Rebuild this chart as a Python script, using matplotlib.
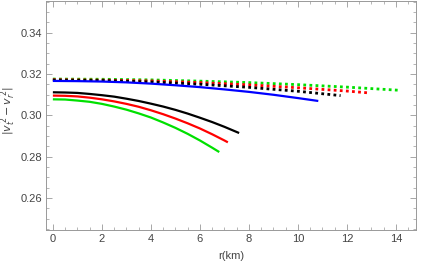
import numpy as np
import matplotlib
matplotlib.use("Agg")
import matplotlib.pyplot as plt
from matplotlib.ticker import MultipleLocator

# solid curves
r_black = [0, 0.5, 1, 1.5, 2, 2.5, 3, 3.5, 4, 4.5, 5, 5.5, 6, 6.5, 7, 7.6]
d_black = [0.3111, 0.3110, 0.3108, 0.3103, 0.3097, 0.3090, 0.3080, 0.3069,
           0.3056, 0.3042, 0.3026, 0.3008, 0.2988, 0.2967, 0.2944, 0.2914]
r_red = [0, 0.5, 1, 1.5, 2, 2.5, 3, 3.5, 4, 4.5, 5, 5.5, 6, 6.5, 7, 7.14]
d_red = [0.3095, 0.3094, 0.3091, 0.3085, 0.3077, 0.3067, 0.3055, 0.3041,
         0.3024, 0.3005, 0.2984, 0.2961, 0.2936, 0.2908, 0.2878, 0.2869]
r_green = [0, 0.5, 1, 1.5, 2, 2.5, 3, 3.5, 4, 4.5, 5, 5.5, 6, 6.5, 6.79]
d_green = [0.3077, 0.3076, 0.3071, 0.3065, 0.3055, 0.3042, 0.3027, 0.3009,
           0.2989, 0.2965, 0.2939, 0.2910, 0.2878, 0.2843, 0.2822]
r_blue = [0, 1, 2, 3, 4, 5, 6, 7, 8, 9, 10, 10.83]
d_blue = [0.3166, 0.3165, 0.3163, 0.3159, 0.3153, 0.3145, 0.3136, 0.3125,
          0.3113, 0.3099, 0.3083, 0.3069]

# dotted curves
r_black_dot = [0, 2, 4, 6, 8, 10, 11.74]
d_black_dot = [0.3170, 0.3168, 0.3161, 0.3150, 0.3135, 0.3116, 0.3095]
r_red_dot = [0, 2, 4, 6, 8, 10, 12, 12.9]
d_red_dot = [0.3172, 0.3170, 0.3166, 0.3158, 0.3147, 0.3133, 0.3117, 0.3108]
r_green_dot = [0, 2, 4, 6, 8, 10, 12, 14.1]
d_green_dot = [0.3175, 0.3174, 0.3171, 0.3165, 0.3158, 0.3148, 0.3136, 0.3121]

solid = [(r_black, d_black, "black"), (r_red, d_red, "#ff0000"),
         (r_green, d_green, "#00e000"), (r_blue, d_blue, "#0000ff")]
dotted = [(r_green_dot, d_green_dot, "#00e000"), (r_red_dot, d_red_dot, "#ff0000"),
          (r_black_dot, d_black_dot, "black")]

plt.rcParams["font.family"] = ["Liberation Sans", "DejaVu Sans"]

fig = plt.figure(figsize=(4.21, 2.64), dpi=100)
ax = fig.add_axes([0.1093, 0.1288, 0.879, 0.867])

for r, d, c in dotted:
    ax.plot(r, d, color=c, lw=2.0, linestyle=(0, (1, 1.2)), dash_capstyle="butt")
for r, d, c in solid:
    ax.plot(r, d, color=c, lw=1.6, solid_capstyle="butt")

ax.set_xlim(-0.28, 14.82)
ax.set_ylim(0.2445, 0.3552)

ax.xaxis.set_major_locator(MultipleLocator(2))
ax.xaxis.set_minor_locator(MultipleLocator(0.5))
ax.yaxis.set_major_locator(MultipleLocator(0.02))
ax.yaxis.set_minor_locator(MultipleLocator(0.005))
ax.yaxis.set_major_formatter(plt.FuncFormatter(lambda v, p: f"{v:.2f}"))

ax.tick_params(which="both", direction="in", top=True, right=True,
               color="#999999", labelsize=8, labelcolor="#444444", pad=3)
ax.tick_params(which="major", length=4, width=0.6)
ax.tick_params(which="minor", length=2, width=0.5)
for s in ax.spines.values():
    s.set_color("#999999")
    s.set_linewidth(0.7)

ax.set_xlabel("r(km)", fontsize=8, color="#444444", labelpad=5)
ax.set_ylabel(r"$|v_t^{\,2} - v_r^{\,2}|$", fontsize=8, color="#444444")
ax.yaxis.set_label_coords(-0.075, 0.52)

fig.savefig("out.png", dpi=100)
